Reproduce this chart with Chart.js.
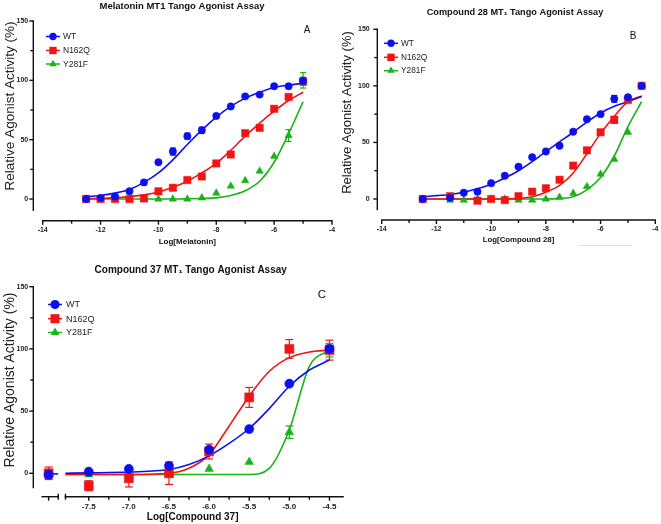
<!DOCTYPE html>
<html>
<head>
<meta charset="utf-8">
<script src="https://cdn.jsdelivr.net/npm/chart.js@4.4.1/dist/chart.umd.min.js"></script>
<style>
  body { margin: 0; background: #fff; width: 661px; height: 524px; overflow: hidden; position: relative; }
  canvas { position: absolute; }
</style>
</head>
<body>
<canvas id="cA" width="345" height="260" style="left:0;top:0"></canvas>
<canvas id="cB" width="331" height="260" style="left:330px;top:0"></canvas>
<canvas id="cC" width="350" height="264" style="left:0;top:260px"></canvas>
<script>
// ---- data ----
const seriesNames = ["WT", "N162Q", "Y281F"];

// panel A : melatonin
const xA = [-12.5, -12, -11.5, -11, -10.5, -10, -9.5, -9, -8.5, -8, -7.5, -7, -6.5, -6, -5.5, -5];
const wtA    = [0, 1, 2, 6.5, 14, 31, 40, 53, 58, 70, 78, 86.5, 88, 95, 95, 99.5];
const n162qA = [0, 0, 0, 0, 0.5, 6.5, 9.5, 16, 19, 30, 37.5, 55.5, 60, 76, 86, 99];
const y281fA = [0, 0, 0, 0, 0, 0, 0, 0, 1, 5, 11, 15.5, 23.5, 36, 53.5, 100];
const wtErrA    = [0, 0, 0, 0, 0, 0, 3, 2.5, 2.5, 0, 0, 0, 0, 0, 0, 3];
const n162qErrA = [0, 0, 0, 0, 0, 0, 0, 0, 0, 0, 0, 0, 0, 0, 0, 3];
const y281fErrA = [0, 0, 0, 0, 0, 0, 0, 0, 0, 0, 0, 0, 0, 0, 5, 6.5];
const wtFitA    = [2, 3, 5, 8, 14, 22, 33, 46, 58, 69, 78, 85, 90, 94, 96, 97.5];
const n162qFitA = [0.3, 0.5, 1, 2, 3.5, 6, 10, 15, 22, 30, 41, 53, 64, 74, 83, 90];
const y281fFitA = [0, 0, 0, 0, 0, 0, 0, 0.2, 0.5, 1, 3, 7, 15, 31, 55, 82];

// panel B : compound 28
const xB = [-12.5, -11.5, -11, -10.5, -10, -9.5, -9, -8.5, -8, -7.5, -7, -6.5, -6, -5.5, -5, -4.5];
const wtB    = [0, 1, 5.5, 6.5, 14, 20.5, 28.5, 37, 42, 47, 59.5, 70.5, 75, 88.5, 90, 100];
const n162qB = [0, 2.5, null, -1.5, 0, -1, 2.5, 6.5, 9.5, 17, 29.5, 43, 59, 70, 87.5, 100];
const y281fB = [null, -1, -1, 0, 0, 0, -1, -1, 0, 1.5, 5, 11, 22, 35, 59, 100];
const wtErrB    = [0, 0, 0, 0, 0, 0, 0, 0, 0, 0, 0, 0, 0, 3, 1, 0];
const n162qErrB = [0, 0, 0, 0, 0, 0, 0, 0, 0, 0, 0, 0, 0, 3, 0, 0];
const fitXB = [-12.5, -12, -11.5, -11, -10.5, -10, -9.5, -9, -8.5, -8, -7.5, -7, -6.5, -6, -5.5, -5, -4.5];
const wtFitB    = [2, 3, 4, 6, 9, 13, 18.5, 25, 33, 42, 50.5, 59, 68, 76, 82, 86, 90.5];
const n162qFitB = [0, 0, 0, 0, 0, 0, 0, 0.5, 2, 6, 12, 23, 40, 58, 73, 86, 91];
const y281fFitB = [0, 0, 0, 0, 0, 0, 0, 0, 0, 0, 0.5, 2, 8, 19, 38, 64, 86];

// panel C : compound 37 (first x is the vehicle point on the broken axis)
const xC = [-8, -7.5, -7, -6.5, -6, -5.5, -5, -4.5];
const wtC    = [-1, 1.3, 3.5, 6, 19, 35.5, 72, 100];
const n162qC = [0, -10, -4, 0, 17.5, 61, 100, 99];
const y281fC = [null, -1, -1, -1, 3.5, 9, 33, 99];
const wtErrC    = [3, 0, 0, 0, 0, 0, 0, 3];
const n162qErrC = [5, 4, 7, 9, 6, 8, 7.5, 8];
const y281fErrC = [0, 0, 0, 0, 0, 0, 5, 5.5];
const fitXC = [-7.79, -7.5, -7, -6.5, -6.25, -6, -5.75, -5.5, -5.25, -5, -4.75, -4.5];
const wtFitC    = [0, 0.3, 1, 3, 7, 14, 24, 36, 52, 70, 83, 91];
const n162qFitC = [-1, -1, -1, 0, 4, 15, 38, 62, 82, 93, 97.5, 99];
const y281fFitC = [-1, -1, -1, -1, -1, -1, -1, -1, 4, 35, 86, 99];
const ctrlLineX = [-8.05, -7.88];
const ctrlLineY = [-0.5, -0.5];

// ticks
const yTicks = [0, 50, 100, 150];
const yMinor = [25, 75, 125];
const xTicksAB = [-14, -12, -10, -8, -6, -4];
const xMinorAB = [-13, -11, -9, -7, -5];
const xTicksC = [-7.5, -7, -6.5, -6, -5.5, -5, -4.5];
const xMinorC = [-7.25, -6.75, -6.25, -5.75, -5.25, -4.75];

const BLUE = "#0c10ee", RED = "#f21414", GREEN = "#17b317";
const colors = [BLUE, RED, GREEN];
const styles = ["circle", "rect", "triangle"];
const FONT = "'Liberation Sans', Arial, sans-serif";
Chart.defaults.font.family = FONT;

function pts(xs, ys) { return xs.map((x, i) => ({ x: x, y: ys[i] })); }

function mark(ctx, style, x, y, r, color) {
  ctx.fillStyle = color;
  ctx.beginPath();
  if (style === "circle") ctx.arc(x, y, r, 0, Math.PI * 2);
  else if (style === "rect") { const s = r * Math.SQRT1_2; ctx.rect(x - s, y - s, 2 * s, 2 * s); }
  else { ctx.moveTo(x, y - r); ctx.lineTo(x + r * 0.866, y + r * 0.5); ctx.lineTo(x - r * 0.866, y + r * 0.5); ctx.closePath(); }
  ctx.fill();
}

function line(ctx, x1, y1, x2, y2) { ctx.beginPath(); ctx.moveTo(x1, y1); ctx.lineTo(x2, y2); ctx.stroke(); }

function decor(g) {
  return {
    id: "decor",
    beforeDatasetsDraw(chart) {
      const ctx = chart.ctx, xs = chart.scales.x, ys = chart.scales.y;
      ctx.save();
      ctx.lineWidth = 1.2;
      g.errors.forEach((e, k) => {
        ctx.strokeStyle = colors[k];
        g.x.forEach((xv, i) => {
          const err = e[i], yv = g.y[k][i];
          if (!err || yv == null) return;
          const px = xs.getPixelForValue(xv);
          const p1 = ys.getPixelForValue(yv + err), p2 = ys.getPixelForValue(yv - err);
          line(ctx, px, p1, px, p2);
          line(ctx, px - g.cap, p1, px + g.cap, p1);
          line(ctx, px - g.cap, p2, px + g.cap, p2);
        });
      });
      ctx.restore();
    },
    afterDraw(chart) {
      const ctx = chart.ctx, xs = chart.scales.x, ys = chart.scales.y;
      ctx.save();
      ctx.strokeStyle = "#111";
      ctx.lineWidth = 1.4;
      // y axis
      const ax = g.yAxisX;
      line(ctx, ax, ys.getPixelForValue(g.ymax) - 0.7, ax, ys.getPixelForValue(g.ymin));
      yTicks.forEach(v => { const p = ys.getPixelForValue(v); line(ctx, ax - 4, p, ax, p); });
      yMinor.forEach(v => { const p = ys.getPixelForValue(v); line(ctx, ax - 3, p, ax, p); });
      // x axis
      const ay = g.xAxisY;
      g.segs.forEach(s => line(ctx, xs.getPixelForValue(s[0]) - 0.7, ay, xs.getPixelForValue(s[1]) + 0.7, ay));
      g.xTicks.forEach(v => { const p = xs.getPixelForValue(v); line(ctx, p, ay, p, ay + 4); });
      g.xMinor.forEach(v => { const p = xs.getPixelForValue(v); line(ctx, p, ay, p, ay + 3); });
      (g.breaks || []).forEach(v => { const p = xs.getPixelForValue(v); line(ctx, p, ay - 3, p, ay + 3); });
      (g.extraTicks || []).forEach(v => { const p = xs.getPixelForValue(v); line(ctx, p, ay, p, ay + 4); });
      // titles
      ctx.fillStyle = "#111";
      ctx.textAlign = "center";
      ctx.textBaseline = "middle";
      ctx.font = "bold " + g.title.size + "px " + FONT;
      ctx.fillText(g.title.text, g.title.x, g.title.y);
      ctx.font = g.letter.size + "px " + FONT;
      ctx.fillText(g.letter.text, g.letter.x, g.letter.y);
      ctx.font = "bold " + g.xTitle.size + "px " + FONT;
      ctx.fillText(g.xTitle.text, (chart.chartArea.left + chart.chartArea.right) / 2, g.xTitle.y);
      ctx.save();
      ctx.translate(g.yTitle.x, g.yTitle.y);
      ctx.rotate(-Math.PI / 2);
      ctx.font = g.yTitle.size + "px " + FONT;
      ctx.fillStyle = "#222";
      ctx.fillText("Relative Agonist Activity (%)", 0, 0);
      ctx.restore();
      // legend
      ctx.textAlign = "left";
      ctx.font = g.legend.size + "px " + FONT;
      seriesNames.forEach((n, k) => {
        const ly = g.legend.rows[k];
        ctx.strokeStyle = colors[k];
        ctx.lineWidth = 1.5;
        line(ctx, g.legend.x - 7, ly, g.legend.x + 7, ly);
        mark(ctx, styles[k], g.legend.x, ly, g.radii[k], colors[k]);
        ctx.fillStyle = "#222";
        ctx.fillText(n, g.legend.tx, ly + 0.5);
      });
      if (g.grayLine) {
        ctx.strokeStyle = "#e2e2e2";
        ctx.lineWidth = 1;
        line(ctx, g.grayLine[0], g.grayLine[2], g.grayLine[1], g.grayLine[2]);
      }
      ctx.restore();
    }
  };
}

function makePanel(id, g) {
  const datasets = [];
  // points first so they sit on top (index 0 is drawn last)
  g.y.forEach((ys, k) => datasets.push({
    data: pts(g.x, ys), showLine: false, pointStyle: styles[k], pointRadius: g.radii[k],
    pointBackgroundColor: colors[k], pointBorderColor: colors[k], pointBorderWidth: 0.5, clip: false
  }));
  g.fits.forEach((ys, k) => datasets.push({
    data: pts(g.fitX, ys), showLine: true, pointRadius: 0, borderColor: colors[k], borderWidth: 1.6,
    cubicInterpolationMode: "monotone", fill: false, clip: false
  }));
  if (g.ctrlLine) datasets.push({
    data: pts(ctrlLineX, ctrlLineY), showLine: true, pointRadius: 0, borderColor: BLUE, borderWidth: 1.6, clip: false
  });
  const canvas = document.getElementById(id);
  return new Chart(canvas.getContext("2d"), {
    type: "scatter",
    data: { datasets: datasets },
    options: {
      responsive: false,
      animation: false,
      layout: { padding: { left: 0, top: g.top, right: g.W - g.right, bottom: 0 } },
      plugins: { legend: { display: false }, tooltip: { enabled: false } },
      scales: {
        x: {
          type: "linear", min: g.xmin, max: g.xmax,
          grid: { display: false, drawTicks: false }, border: { display: false },
          afterBuildTicks: s => { s.ticks = g.xTicks.map(v => ({ value: v })); },
          afterFit: s => { s.height = g.H - g.bottom; s.paddingLeft = 0; s.paddingRight = 0; },
          ticks: {
            autoSkip: false, maxRotation: 0, padding: g.xPad, color: "#222",
            font: { size: g.tickSize, weight: "bold" },
            callback: v => g.fmt ? v.toFixed(1) : String(v)
          }
        },
        y: {
          type: "linear", min: g.ymin, max: g.ymax,
          grid: { display: false, drawTicks: false }, border: { display: false },
          afterBuildTicks: s => { s.ticks = yTicks.map(v => ({ value: v })); },
          afterFit: s => { s.width = g.left; s.paddingTop = 0; s.paddingBottom = 0; },
          ticks: { padding: g.yPad, color: "#222", font: { size: 7, weight: "bold" } }
        }
      }
    },
    plugins: [decor(g)]
  });
}

makePanel("cA", {
  W: 345, H: 260, left: 42.7, right: 332, top: 21, bottom: 210.9,
  xmin: -14, xmax: -4, ymin: -10, ymax: 150, yAxisX: 33.3, xAxisY: 220.7,
  xTicks: xTicksAB, xMinor: xMinorAB, segs: [[-14, -4]], tickSize: 7, xPad: 14.9, yPad: 14.5,
  x: xA, y: [wtA, n162qA, y281fA], errors: [wtErrA, n162qErrA, y281fErrA], cap: 3,
  fitX: xA, fits: [wtFitA, n162qFitA, y281fFitA], radii: [3.7, 5.2, 4.3],
  title: { text: "Melatonin MT1 Tango Agonist Assay", x: 182, y: 6, size: 9.5 },
  letter: { text: "A", x: 307, y: 30, size: 10 },
  xTitle: { text: "Log[Melatonin]", y: 241.7, size: 8 },
  yTitle: { x: 10, y: 106, size: 13.5 },
  legend: { x: 53, tx: 63, rows: [36.5, 50.5, 64], size: 8.5 }
});

makePanel("cB", {
  W: 331, H: 260, left: 51.7, right: 328.3, top: 29.3, bottom: 210.3,
  xmin: -14, xmax: -4, ymin: -10, ymax: 150, yAxisX: 47.3, xAxisY: 220,
  xTicks: xTicksAB, xMinor: xMinorAB, segs: [[-14, -4]], tickSize: 7, xPad: 14.8, yPad: 12,
  x: xB, y: [wtB, n162qB, y281fB], errors: [wtErrB, n162qErrB, []], cap: 3,
  fitX: fitXB, fits: [wtFitB, n162qFitB, y281fFitB], radii: [3.7, 5.2, 4.3],
  title: { text: "Compound 28 MT\u2081 Tango Agonist Assay", x: 185, y: 12.7, size: 9.2 },
  letter: { text: "B", x: 303, y: 36, size: 10 },
  xTitle: { text: "Log[Compound 28]", y: 240, size: 7.8 },
  yTitle: { x: 17, y: 112.5, size: 13 },
  legend: { x: 61, tx: 71, rows: [43.3, 57.3, 70.7], size: 8.3 },
  grayLine: [248, 302, 245.5]
});

makePanel("cC", {
  W: 350, H: 264, left: 42.2, right: 344.7, top: 26.7, bottom: 228.2,
  xmin: -8.08, xmax: -4.33, ymin: -12, ymax: 150, yAxisX: 33.3, xAxisY: 236.7,
  xTicks: xTicksC, xMinor: xMinorC, segs: [[-8.08, -7.88], [-7.79, -4.33]], breaks: [-7.88, -7.79], extraTicks: [-8],
  tickSize: 8, xPad: 13.6, yPad: 14, fmt: true,
  x: xC, y: [wtC, n162qC, y281fC], errors: [wtErrC, n162qErrC, y281fErrC], cap: 4,
  fitX: fitXC, fits: [wtFitC, n162qFitC, y281fFitC], radii: [4.6, 6.4, 5], ctrlLine: true,
  title: { text: "Compound 37 MT\u2081 Tango Agonist Assay", x: 190.7, y: 10, size: 10 },
  letter: { text: "C", x: 322, y: 35, size: 11.5 },
  xTitle: { text: "Log[Compound 37]", y: 257.7, size: 10 },
  yTitle: { x: 10, y: 120, size: 14 },
  legend: { x: 55, tx: 66, rows: [44.5, 58.7, 72.5], size: 9 }
});
</script>
</body>
</html>
